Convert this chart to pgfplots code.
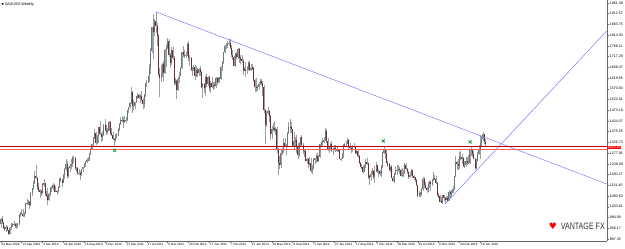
\documentclass[border=0pt]{standalone}
\usepackage{fontspec}
\setmainfont{Liberation Sans}
\newfontfamily\djv{DejaVu Sans}
\usepackage{graphicx}
\usepackage{pgfplots}
\usepackage{pgfplotstable}
\pgfplotsset{compat=1.18}
\definecolor{wick}{HTML}{98A2A4}
\definecolor{upbody}{HTML}{6A7678}
\definecolor{dnbody}{HTML}{6E2C2C}
\definecolor{tline}{HTML}{7B7BFF}
\definecolor{rdark}{HTML}{C00000}
\definecolor{rlight}{HTML}{FF6060}
\definecolor{xgreen}{HTML}{1E9A3C}
\pgfplotstableread{
i o h l c
0 956 983 939 979
1 979 990 955 963
2 963 965 932 937
3 937 948 925 935
4 935 950 920 940
5 940 946 922 926
6 926 928 905 912
7 912 940 910 937
8 937 958 930 952
9 952 962 942 954
10 954 971 948 956
11 956 960 935 946
12 946 958 932 953
13 953 962 936 955
14 955 1000 950 996
15 996 1010 985 1006
16 1006 1025 1000 1003
17 1003 1022 986 990
18 990 1010 985 1003
19 1003 1050 1000 1049
20 1049 1070 1040 1051
21 1051 1065 1040 1057
22 1057 1062 1025 1041
23 1041 1100 1038 1095
24 1095 1120 1085 1117
25 1117 1150 1110 1141
26 1141 1195 1138 1175
27 1175 1226 1160 1165
28 1165 1170 1110 1123
29 1123 1140 1100 1110
30 1110 1115 1075 1104
31 1104 1112 1085 1096
32 1096 1140 1093 1138
33 1138 1162 1125 1140
34 1140 1142 1085 1091
35 1091 1105 1077 1081
36 1081 1120 1044 1065
37 1065 1095 1058 1093
38 1093 1123 1085 1117
39 1117 1130 1100 1118
40 1118 1140 1110 1134
41 1134 1138 1100 1102
42 1102 1130 1100 1107
43 1107 1110 1088 1105
44 1105 1130 1095 1125
45 1125 1165 1120 1161
46 1161 1170 1145 1155
47 1155 1160 1125 1142
48 1142 1182 1140 1179
49 1179 1212 1162 1207
50 1207 1249 1195 1227
51 1227 1240 1165 1176
52 1176 1215 1166 1212
53 1212 1230 1190 1219
54 1219 1250 1205 1229
55 1229 1265 1215 1256
56 1256 1265 1232 1256
57 1256 1262 1200 1210
58 1210 1216 1190 1210
59 1210 1215 1180 1188
60 1188 1205 1180 1188
61 1188 1195 1157 1181
62 1181 1205 1175 1204
63 1204 1215 1192 1215
64 1215 1232 1210 1227
65 1227 1242 1215 1237
66 1237 1254 1235 1246
67 1246 1260 1240 1246
68 1246 1280 1244 1275
69 1275 1300 1270 1296
70 1296 1320 1290 1319
71 1319 1350 1310 1346
72 1346 1387 1340 1369
73 1369 1375 1315 1325
74 1325 1360 1318 1357
75 1357 1398 1325 1397
76 1397 1424 1360 1367
77 1367 1370 1330 1352
78 1352 1380 1335 1362
79 1362 1410 1355 1405
80 1405 1431 1380 1384
81 1384 1405 1360 1375
82 1375 1390 1366 1380
83 1380 1425 1378 1421
84 1421 1423 1362 1369
85 1369 1390 1355 1360
86 1360 1375 1337 1342
87 1342 1345 1308 1340
88 1340 1365 1330 1348
89 1348 1370 1345 1360
90 1360 1390 1354 1388
91 1388 1415 1380 1410
92 1410 1440 1405 1428
93 1428 1445 1420 1427
94 1427 1440 1392 1418
95 1418 1445 1413 1428
96 1428 1440 1415 1429
97 1429 1475 1425 1474
98 1474 1490 1460 1486
99 1486 1510 1480 1504
100 1504 1577 1500 1556
101 1556 1560 1462 1492
102 1492 1520 1475 1492
103 1492 1512 1480 1510
104 1510 1540 1505 1537
105 1537 1550 1522 1542
106 1542 1549 1522 1528
107 1528 1545 1508 1539
108 1539 1560 1515 1521
109 1521 1530 1478 1500
110 1500 1545 1483 1542
111 1542 1597 1535 1594
112 1594 1610 1580 1601
113 1601 1628 1595 1628
114 1628 1682 1603 1663
115 1663 1754 1640 1743
116 1743 1852 1735 1851
117 1851 1912 1705 1829
118 1829 1890 1810 1880
119 1880 1921 1825 1855
120 1855 1870 1765 1812
121 1812 1820 1630 1638
122 1638 1665 1535 1620
123 1620 1680 1600 1636
124 1636 1690 1625 1682
125 1682 1695 1605 1642
126 1642 1750 1640 1745
127 1745 1770 1672 1755
128 1755 1803 1752 1788
129 1788 1795 1715 1724
130 1724 1733 1667 1686
131 1686 1762 1680 1746
132 1746 1762 1700 1710
133 1710 1718 1590 1598
134 1598 1620 1590 1606
135 1606 1611 1523 1565
136 1565 1625 1562 1616
137 1616 1647 1595 1630
138 1630 1670 1627 1664
139 1664 1740 1660 1738
140 1738 1764 1715 1725
141 1725 1745 1710 1725
142 1725 1740 1710 1725
143 1725 1778 1718 1773
144 1773 1790 1695 1710
145 1710 1725 1675 1711
146 1711 1715 1652 1656
147 1656 1672 1627 1662
148 1662 1680 1650 1668
149 1668 1680 1612 1630
150 1630 1675 1623 1657
151 1657 1665 1625 1642
152 1642 1665 1630 1662
153 1662 1675 1630 1645
154 1645 1650 1575 1578
155 1578 1595 1527 1591
156 1591 1598 1550 1572
157 1572 1628 1540 1622
158 1622 1640 1580 1591
159 1591 1628 1585 1626
160 1626 1628 1560 1572
161 1572 1605 1550 1598
162 1598 1622 1572 1579
163 1579 1600 1565 1590
164 1590 1600 1570 1582
165 1582 1625 1575 1618
166 1618 1625 1590 1602
167 1602 1625 1595 1620
168 1620 1625 1598 1615
169 1615 1675 1610 1672
170 1672 1695 1650 1692
171 1692 1740 1685 1739
172 1739 1772 1730 1767
173 1767 1780 1750 1773
174 1773 1786 1755 1774
175 1774 1796 1765 1780
176 1780 1795 1750 1756
177 1756 1770 1715 1723
178 1723 1745 1700 1716
179 1716 1720 1675 1676
180 1676 1735 1672 1730
181 1730 1740 1705 1714
182 1714 1755 1705 1752
183 1752 1755 1690 1711
184 1711 1723 1685 1704
185 1704 1723 1690 1696
186 1696 1705 1635 1658
187 1658 1670 1650 1657
188 1657 1693 1625 1656
189 1656 1675 1640 1662
190 1662 1695 1650 1686
191 1686 1695 1650 1657
192 1657 1685 1650 1667
193 1667 1682 1655 1666
194 1666 1672 1600 1609
195 1609 1615 1555 1580
196 1580 1620 1555 1576
197 1576 1590 1562 1577
198 1577 1600 1565 1592
199 1592 1617 1590 1606
200 1606 1615 1590 1595
201 1595 1605 1540 1580
202 1580 1590 1460 1476
203 1476 1480 1321 1405
204 1405 1470 1398 1462
205 1462 1488 1450 1469
206 1469 1475 1420 1447
207 1447 1450 1338 1365
208 1365 1400 1340 1386
209 1386 1417 1380 1392
210 1392 1424 1375 1383
211 1383 1395 1360 1387
212 1387 1395 1280 1297
213 1297 1300 1180 1234
214 1234 1267 1207 1223
215 1223 1297 1212 1277
216 1277 1300 1270 1296
217 1296 1348 1280 1322
218 1322 1345 1305 1310
219 1310 1320 1270 1312
220 1312 1375 1310 1370
221 1370 1420 1365 1396
222 1396 1434 1370 1395
223 1395 1420 1370 1387
224 1387 1389 1306 1308
225 1308 1375 1292 1332
226 1332 1350 1312 1337
227 1337 1362 1277 1310
228 1310 1323 1251 1271
229 1271 1330 1262 1315
230 1315 1353 1310 1352
231 1352 1362 1310 1313
232 1313 1326 1276 1286
233 1286 1294 1260 1288
234 1288 1292 1240 1243
235 1243 1256 1230 1250
236 1250 1255 1210 1230
237 1230 1260 1220 1235
238 1235 1255 1186 1197
239 1197 1225 1182 1205
240 1205 1255 1205 1247
241 1247 1257 1230 1254
242 1254 1272 1235 1264
243 1264 1280 1238 1241
244 1241 1270 1238 1262
245 1262 1320 1257 1318
246 1318 1333 1307 1324
247 1324 1345 1310 1330
248 1330 1352 1325 1338
249 1338 1392 1335 1379
250 1379 1389 1322 1335
251 1335 1345 1288 1293
252 1293 1305 1277 1304
253 1304 1322 1290 1318
254 1318 1331 1285 1294
255 1294 1303 1268 1301
256 1301 1317 1290 1301
257 1301 1315 1282 1291
258 1291 1305 1285 1293
259 1293 1298 1282 1292
260 1292 1295 1250 1250
261 1250 1256 1240 1252
262 1252 1278 1251 1274
263 1274 1321 1254 1316
264 1316 1325 1305 1316
265 1316 1332 1307 1320
266 1320 1346 1318 1337
267 1337 1340 1293 1310
268 1310 1322 1290 1303
269 1303 1310 1280 1293
270 1293 1315 1281 1311
271 1311 1322 1300 1305
272 1305 1310 1273 1280
273 1280 1296 1275 1287
274 1287 1290 1255 1267
275 1267 1270 1228 1231
276 1231 1236 1214 1216
277 1216 1229 1205 1214
278 1214 1222 1183 1192
279 1192 1225 1190 1221
280 1221 1250 1209 1238
281 1238 1255 1225 1231
282 1231 1235 1161 1171
283 1171 1180 1131 1169
284 1169 1197 1150 1185
285 1185 1208 1180 1197
286 1197 1202 1162 1167
287 1167 1221 1142 1192
288 1192 1238 1190 1222
289 1222 1225 1188 1195
290 1195 1205 1170 1195
291 1195 1202 1176 1184
292 1184 1223 1167 1216
293 1216 1282 1210 1277
294 1277 1307 1275 1293
295 1293 1295 1250 1279
296 1279 1293 1232 1234
297 1234 1243 1216 1227
298 1227 1232 1196 1203
299 1203 1220 1192 1213
300 1213 1224 1163 1165
301 1165 1176 1147 1152
302 1152 1188 1142 1183
303 1183 1220 1180 1199
304 1199 1224 1178 1201
305 1201 1224 1190 1207
306 1207 1214 1182 1203
307 1203 1207 1172 1174
308 1174 1212 1169 1179
309 1179 1199 1170 1189
310 1189 1232 1185 1225
311 1225 1233 1200 1205
312 1205 1210 1182 1190
313 1190 1196 1162 1168
314 1168 1190 1165 1180
315 1180 1205 1172 1201
316 1201 1203 1165 1173
317 1173 1180 1155 1168
318 1168 1170 1145 1157
319 1157 1160 1130 1131
320 1131 1133 1077 1085
321 1085 1105 1078 1095
322 1095 1100 1080 1094
323 1094 1120 1085 1113
324 1113 1170 1105 1160
325 1160 1170 1118 1134
326 1134 1146 1113 1121
327 1121 1125 1097 1108
328 1108 1145 1100 1138
329 1138 1156 1120 1146
330 1146 1152 1105 1137
331 1137 1160 1128 1155
332 1155 1191 1150 1163
333 1163 1180 1155 1162
334 1162 1175 1137 1141
335 1141 1145 1085 1088
336 1088 1097 1072 1081
337 1081 1088 1055 1057
338 1057 1080 1052 1056
339 1056 1088 1046 1086
340 1086 1088 1062 1075
341 1075 1080 1046 1065
342 1065 1085 1064 1075
343 1075 1082 1058 1061
344 1061 1108 1060 1103
345 1103 1106 1075 1090
346 1090 1112 1080 1097
347 1097 1127 1097 1116
348 1116 1173 1110 1173
349 1173 1263 1170 1238
350 1238 1240 1200 1230
351 1230 1250 1200 1220
352 1220 1281 1205 1259
353 1259 1287 1246 1259
354 1259 1273 1228 1255
355 1255 1258 1215 1221
356 1221 1243 1208 1222
357 1222 1262 1215 1243
358 1243 1262 1225 1235
359 1235 1271 1230 1232
360 1232 1296 1230 1290
361 1290 1304 1265 1290
362 1290 1290 1260 1273
363 1273 1287 1250 1252
364 1252 1257 1200 1212
365 1212 1250 1207 1243
366 1243 1285 1240 1275
367 1275 1315 1270 1298
368 1298 1362 1250 1322
369 1322 1358 1310 1340
370 1340 1375 1335 1366
371 1366 1367 1320 1327
372 1327 1340 1310 1323
}\gold
\begin{document}
\begin{tikzpicture}
\path[use as bounding box] (0,0) rectangle (625bp,249bp);
\begin{axis}[
  at={(0bp,8bp)}, anchor=south west,
  scale only axis, width=607bp, height=241bp,
  xmin=-0.6, xmax=465.3, ymin=878, ymax=1974.6,
  axis x line*=bottom, axis y line*=right,
  axis line style={draw=black!60, line width=0.5bp, -},
  xtick={0,16,...,368},
  xticklabels={24 May 2009,13 Sep 2009,3 Jan 2010,25 Apr 2010,15 Aug 2010,5 Dec 2010,27 Mar 2011,17 Jul 2011,6 Nov 2011,26 Feb 2012,17 Jun 2012,7 Oct 2012,27 Jan 2013,19 May 2013,8 Sep 2013,5 Jan 2014,27 Apr 2014,17 Aug 2014,7 Dec 2014,29 Mar 2015,19 Jul 2015,8 Nov 2015,28 Feb 2016,19 Jun 2016},
  xticklabel style={anchor=north west, font=\fontsize{3.1}{3.5}\selectfont, inner sep=0.4bp, xshift=0.3bp, yshift=0.3bp},
  ytick={887.35,936.17,...,1965},
  yticklabel style={anchor=west, font=\fontsize{3.6}{4}\selectfont, inner sep=0.5bp, xshift=0.3bp,
    /pgf/number format/.cd, fixed, fixed zerofill, precision=2, 1000 sep={}, assume math mode=true},
  major tick length=1.8bp, tick align=outside, tick style={black!60, line width=0.4bp},
  clip mode=individual,
]
\addplot[draw=none, mark=none, forget plot, error bars/.cd, y dir=both, y explicit, error mark=none,
  error bar style={draw=wick, solid, line width=0.5bp}]
  table[x=i, y expr={(\thisrow{h}+\thisrow{l})/2}, y error expr={(\thisrow{h}-\thisrow{l})/2}] {\gold};
\addplot[draw=none, mark=none, forget plot, error bars/.cd, y dir=both, y explicit, error mark=none,
  error bar style={draw=upbody, solid, line width=1.0bp}]
  table[x=i, y expr={(\thisrow{o}+\thisrow{c})/2}, y error expr={ifthenelse(\thisrow{c}>=\thisrow{o}, max((\thisrow{c}-\thisrow{o})/2,1.5), 0)}] {\gold};
\addplot[draw=none, mark=none, forget plot, error bars/.cd, y dir=both, y explicit, error mark=none,
  error bar style={draw=dnbody, solid, line width=1.0bp}]
  table[x=i, y expr={(\thisrow{o}+\thisrow{c})/2}, y error expr={ifthenelse(\thisrow{c}<\thisrow{o}, max((\thisrow{o}-\thisrow{c})/2,1.5), 0)}] {\gold};
% trend lines
\addplot[color=tline, line width=0.5bp] coordinates {(118.9,1921) (465.3,1137)};
\addplot[color=tline, line width=0.5bp] coordinates {(341,1046) (465.3,1835)};
% horizontal levels
\addplot[color=rdark, line width=0.8bp] coordinates {(-0.6,1310) (465.3,1310)};
\addplot[color=rlight, line width=0.8bp] coordinates {(-0.6,1296) (465.3,1296)};
% markers
\addplot[only marks, mark=x, mark size=2.1bp, color=xgreen, line width=0.9bp] coordinates {(87.4,1291) (293.6,1333) (360.3,1329)};
\node[fill=red, text=white, font=\fontsize{3.6}{4}\selectfont, inner sep=0.5bp, anchor=west] at (axis cs:465.3,1303) {1303.15};
\end{axis}
\node[anchor=west, inner sep=0, font=\fontsize{3.8}{4}\selectfont] at (1.5bp,244bp) {{\djv\fontsize{3}{3}\selectfont ▼}\,XAUUSD,Weekly};
\node[anchor=east, inner sep=0, text=black!80] at (605bp,23bp) {\resizebox{44bp}{6.5bp}{VANTAGE FX}};
\node[inner sep=0, text=red] at (553bp,23bp) {\djv\fontsize{9}{9}\selectfont ♥};
\end{tikzpicture}
\end{document}
